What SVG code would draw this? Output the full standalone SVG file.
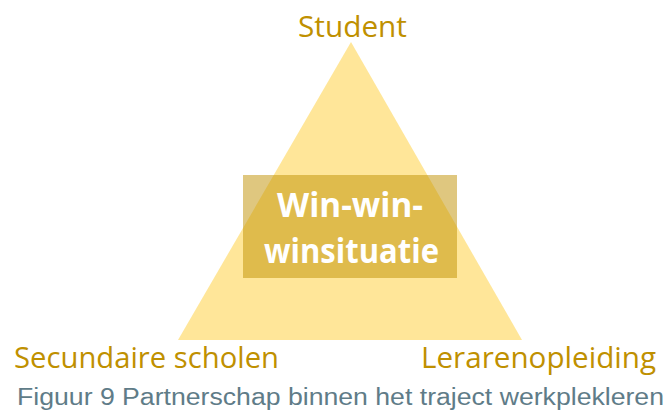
<svg xmlns="http://www.w3.org/2000/svg" width="666" height="410" viewBox="0 0 666 410">
<style>
.lbl{font-family:"Open Sans","Liberation Sans",sans-serif;font-size:29px;fill:#BF9000}
.ctr{font-family:"Open Sans","Liberation Sans",sans-serif;font-weight:bold;font-size:34px;fill:#FFFFFF}
.cap{font-family:"Liberation Sans",Arial,sans-serif;font-size:23px;fill:#5F7C88}
</style>
<rect width="666" height="410" fill="#FFFFFF"/>
<g id="triangle">
<polygon points="351,42 522,340 178,340" fill="#FFE699"/>
</g>
<g id="center">
<rect x="243" y="175" width="214" height="103" fill="#BF9000" fill-opacity="0.5"/>
<text class="ctr" x="277" y="217" textLength="146" lengthAdjust="spacingAndGlyphs">Win-win-</text>
<text class="ctr" x="264" y="263" textLength="175" lengthAdjust="spacingAndGlyphs">winsituatie</text>
</g>
<g id="student">
<text class="lbl" x="298" y="37" textLength="109" lengthAdjust="spacingAndGlyphs">Student</text>
</g>
<g id="secundaire">
<text class="lbl" x="14" y="368" textLength="265" lengthAdjust="spacingAndGlyphs">Secundaire scholen</text>
</g>
<g id="lerarenopleiding">
<text class="lbl" x="421" y="368" textLength="235" lengthAdjust="spacingAndGlyphs">Lerarenopleiding</text>
</g>
<g id="connectors"></g>
<text class="cap" x="17" y="405" textLength="647" lengthAdjust="spacingAndGlyphs">Figuur 9 Partnerschap binnen het traject werkplekleren</text>
</svg>
